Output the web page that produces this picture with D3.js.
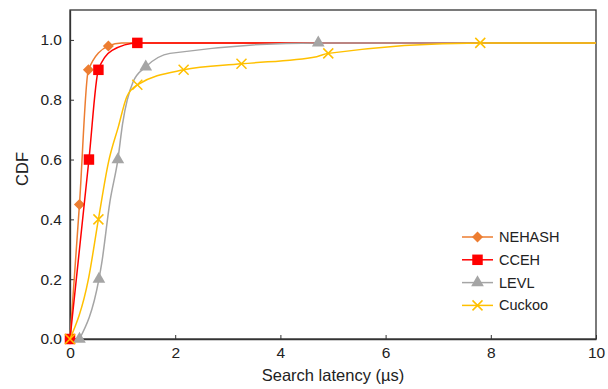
<!DOCTYPE html>
<html>
<head>
<meta charset="utf-8">
<script src="https://cdn.jsdelivr.net/npm/d3@7"></script>
<style>
  body { margin: 0; background: #fff; }
  text { font-family: 'Liberation Sans', Arial, sans-serif; fill: #222; }
</style>
</head>
<body>
<svg id="chart" width="608" height="389"></svg>
<script>
// [latency (µs), CDF, has marker]
const nehash = [[0, 0, 1], [0.18, 0.45, 1], [0.35, 0.9, 1], [0.73, 0.98, 1], [0.98, 0.99, 0], [10, 0.99, 0]]
const cceh = [[0, 0, 1], [0.36, 0.6, 1], [0.54, 0.9, 1], [0.8, 0.965, 0], [1.28, 0.99, 1], [10, 0.99, 0]]
const levl = [[0.18, 0, 1], [0.55, 0.2, 1], [0.6, 0.25, 0], [0.76, 0.46, 0], [0.91, 0.6, 1], [1.0, 0.72, 0],
  [1.2, 0.86, 0], [1.44, 0.91, 1], [1.9, 0.955, 0], [4.72, 0.99, 1], [10, 0.99, 0]]
const cuckoo = [[0, 0, 1], [0.35, 0.2, 0], [0.54, 0.4, 1], [0.73, 0.59, 0], [0.92, 0.71, 0], [1.08, 0.81, 0],
  [1.28, 0.85, 1], [2.16, 0.9, 1], [3.26, 0.92, 1], [4.69, 0.944, 0], [4.91, 0.955, 1], [7.8, 0.99, 1], [10, 0.99, 0]]

const names = ['NEHASH', 'CCEH', 'LEVL', 'Cuckoo']
const colors = ['#ED7D31', '#FF0000', '#A5A5A5', '#FFC000']
const symbols = ['diamond', 'square', 'triangle', 'x']
const xTicks = [0, 2, 4, 6, 8, 10]
const yTicks = [0, 0.2, 0.4, 0.6, 0.8, 1.0]

const series = [nehash, cceh, levl, cuckoo]

const svg = d3.select('#chart')
const plotL = 70, plotR = 596, plotT = 10, plotB = 339

const x = d3.scaleLinear().domain([0, 10]).range([plotL, plotR])
const y = d3.scaleLinear().domain([0, 1.1]).range([plotB, plotT])

// frame
svg.append('rect')
  .attr('x', plotL).attr('y', plotT)
  .attr('width', plotR - plotL).attr('height', plotB - plotT)
  .attr('fill', 'none').attr('stroke', '#333').attr('stroke-width', 1.3)

const xAxis = svg.append('g')
  .attr('transform', `translate(0,${plotB})`)
  .call(d3.axisBottom(x).tickValues(xTicks).tickSizeInner(-4).tickSizeOuter(0).tickPadding(8).tickFormat(d3.format('d')))
xAxis.select('.domain').attr('stroke', '#333').attr('stroke-width', 1.3)
xAxis.selectAll('line').attr('stroke', '#333')
xAxis.selectAll('text').attr('font-size', 15.5).attr('fill', '#222')
  .style('font-family', "'Liberation Sans', Arial, sans-serif")

const yAxis = svg.append('g')
  .attr('transform', `translate(${plotL},0)`)
  .call(d3.axisLeft(y).tickValues(yTicks).tickSizeInner(-4).tickSizeOuter(0).tickPadding(8).tickFormat(d3.format('.1f')))
yAxis.select('.domain').attr('stroke', '#333').attr('stroke-width', 1.3)
yAxis.selectAll('line').attr('stroke', '#333')
yAxis.selectAll('text').attr('font-size', 15.5).attr('fill', '#222')
  .style('font-family', "'Liberation Sans', Arial, sans-serif")

svg.append('text')
  .attr('x', (plotL + plotR) / 2).attr('y', 381)
  .attr('text-anchor', 'middle').attr('font-size', 16.5)
  .text('Search latency (µs)')

svg.append('text')
  .attr('transform', `translate(28,169) rotate(-90)`)
  .attr('text-anchor', 'middle').attr('font-size', 16.5)
  .text('CDF')

const line = d3.line()
  .x(d => x(d[0]))
  .y(d => y(d[1]))
  .curve(d3.curveMonotoneX)

const drawMarker = (g, sym, color, cx, cy) => {
  if (sym === 'x') {
    const s = 5
    g.append('path')
      .attr('d', `M${cx - s},${cy - s}L${cx + s},${cy + s}M${cx - s},${cy + s}L${cx + s},${cy - s}`)
      .attr('stroke', color).attr('stroke-width', 1.5).attr('fill', 'none')
    return
  }
  if (sym === 'diamond') {
    const s = 5.5
    g.append('path')
      .attr('d', `M${cx},${cy - s}L${cx + s},${cy}L${cx},${cy + s}L${cx - s},${cy}Z`)
      .attr('fill', color)
    return
  }
  const type = { square: d3.symbolSquare, triangle: d3.symbolTriangle }[sym]
  const size = { square: 110, triangle: 70 }[sym]
  g.append('path')
    .attr('d', d3.symbol().type(type).size(size)())
    .attr('transform', `translate(${cx},${cy})`)
    .attr('fill', color)
}

series.forEach((data, i) => {
  const g = svg.append('g')
  g.append('path')
    .datum(data)
    .attr('d', line)
    .attr('fill', 'none')
    .attr('stroke', colors[i])
    .attr('stroke-width', 1.5)
  data.filter(d => d[2]).forEach(d => drawMarker(g, symbols[i], colors[i], x(d[0]), y(d[1])))
})

// legend
const legend = svg.append('g').attr('transform', 'translate(462,237)')
names.forEach((name, i) => {
  const row = legend.append('g').attr('transform', `translate(0,${i * 22.8})`)
  row.append('line')
    .attr('x1', 0).attr('x2', 31)
    .attr('stroke', colors[i]).attr('stroke-width', 1.5)
  drawMarker(row, symbols[i], colors[i], 15.5, 0)
  row.append('text')
    .attr('x', 37).attr('y', 5)
    .attr('font-size', 14.5)
    .text(name)
})
</script>
</body>
</html>
